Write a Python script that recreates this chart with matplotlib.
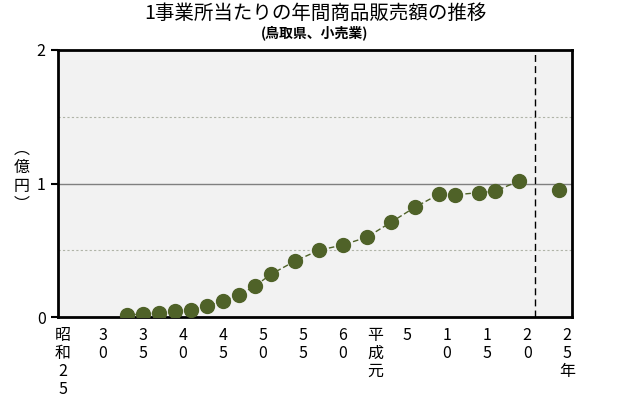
## 1事業所当たりの年間商品販売額の推移 (鳥取県, 小売業)

import matplotlib
matplotlib.use("Agg")
import matplotlib.pyplot as plt

plt.rcParams['font.family'] = ['Noto Sans CJK JP', 'DejaVu Sans']

# survey years and sales per establishment (億円)
years = [1958, 1960, 1962, 1964, 1966, 1968, 1970, 1972, 1974, 1976, 1979,
         1982, 1985, 1988, 1991, 1994, 1997, 1999, 2002, 2004, 2007]
values = [0.015, 0.022, 0.032, 0.047, 0.055, 0.082, 0.12, 0.165, 0.232, 0.32, 0.419,
          0.50, 0.54, 0.598, 0.71, 0.823, 0.92, 0.915, 0.932, 0.942, 1.02]

# latest survey, plotted without a connecting line
last_year = [2012]
last_value = [0.95]

break_year = 2009

tick_years = [1950, 1955, 1960, 1965, 1970, 1975, 1980, 1985, 1989, 1993, 1998, 2003, 2008, 2013]
tick_labels = ["昭和25", "30", "35", "40", "45", "50", "55", "60", "平成元", "5", "10", "15", "20", "25年"]

green = '#4F6228'


def main():
    fig = plt.figure(figsize=(6.3, 4.0), dpi=100)
    ax = fig.add_axes([58 / 630, 1 - 317 / 400, 514 / 630, 267 / 400])
    ax.set_facecolor('#F2F2F2')

    # grid lines
    ax.axhline(1, color='#808080', lw=1, zorder=1)
    for y in (0.5, 1.5):
        ax.axhline(y, color='#B0B4A8', lw=0.8, ls=(0, (2, 2)), zorder=1)

    # break between old and new survey
    ax.axvline(break_year, color='black', lw=1, ls=(0, (5, 3)), zorder=2)

    ax.plot(years, values, color=green, lw=1, ls=(0, (4, 2)), marker='o',
            markersize=10, markerfacecolor=green, markeredgecolor=green, zorder=3)
    ax.plot(last_year, last_value, ls='none', marker='o', markersize=10,
            color=green, zorder=3)

    ax.set_xlim(1949.4, 2013.6)
    ax.set_ylim(0, 2)
    ax.set_yticks([0, 1, 2])
    ax.set_yticklabels(['0', '1', '2'], fontsize=11.5)
    ax.tick_params(axis='y', length=5, width=1.5, pad=4, color='black')

    # vertical (stacked) x tick labels
    ax.set_xticks(tick_years)
    ax.set_xticklabels(["\n".join(lbl) for lbl in tick_labels], fontsize=11.5,
                       va='top', linespacing=1.08)
    ax.tick_params(axis='x', length=0, pad=7)

    for sp in ax.spines.values():
        sp.set_linewidth(2)
        sp.set_color('black')

    # y axis unit, written vertically
    fig.text(0.035, 1 - 177 / 400, "︵\n億\n円\n︶", fontsize=11.5,
             ha='center', va='center', linespacing=1.1)

    fig.text(0.5, 1 - 13 / 400, "1事業所当たりの年間商品販売額の推移", fontsize=14,
             ha='center', va='center')
    fig.text(0.5, 1 - 33 / 400, "(鳥取県、小売業)", fontsize=10, fontweight='bold',
             ha='center', va='center')

    fig.savefig('out.png', dpi=100)


if __name__ == '__main__':
    main()
